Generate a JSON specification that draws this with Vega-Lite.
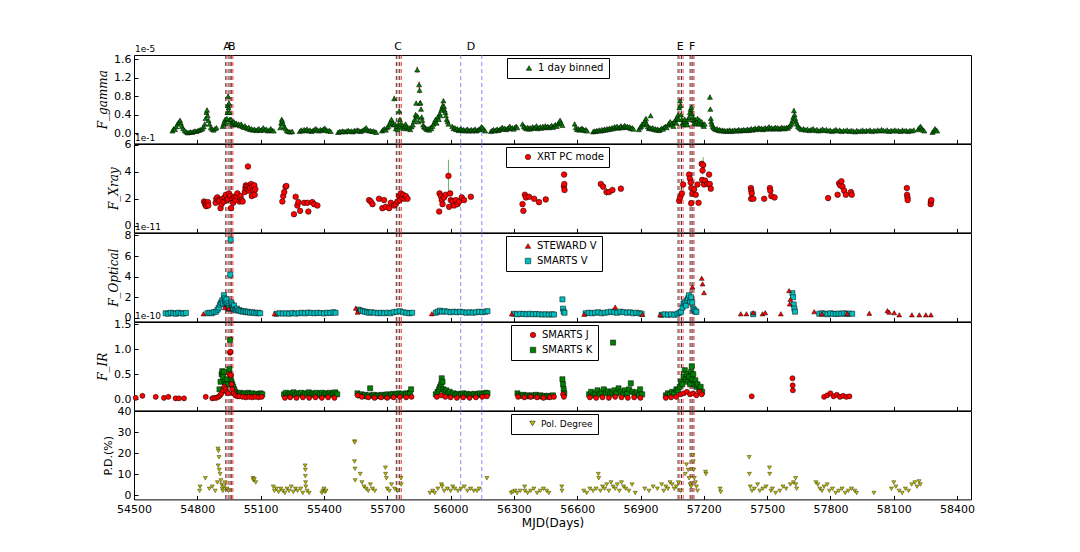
{
  "$schema": "https://vega.github.io/schema/vega-lite/v6.json",
  "background": "white",
  "padding": {"left": 96, "top": 40, "right": 5, "bottom": 5},
  "bounds": "flush",
  "spacing": 0,
  "config": {
    "font": "DejaVu Sans",
    "view": {"stroke": "black", "strokeWidth": 1},
    "axis": {"grid": false, "domain": false, "labelFont": "DejaVu Sans", "labelFontSize": 11, "labelColor": "black", "tickColor": "black", "tickSize": -4, "labelPadding": 7, "labelOverlap": false, "labelFlush": false, "titleColor": "black", "titleFontWeight": "normal", "titleFont": "DejaVu Sans"},
    "legend": {"orient": "none", "strokeColor": "black", "fillColor": "white", "padding": 5, "cornerRadius": 0, "labelFont": "DejaVu Sans", "labelFontSize": 10, "labelColor": "black", "symbolStrokeColor": "black", "symbolStrokeWidth": 0.5, "symbolSize": 30, "symbolOffset": 12, "rowPadding": 5}
  },
  "datasets": {
    "ev": [
      {"t": 54935, "k": "start"}, {"t": 54941, "k": "end"}, {"t": 54950, "k": "start"}, {"t": 54957, "k": "end"}, {"t": 54963, "k": "start"}, {"t": 54969, "k": "end"},
      {"t": 55743, "k": "start"}, {"t": 55751, "k": "end"}, {"t": 55759, "k": "start"}, {"t": 55767, "k": "end"},
      {"t": 56048, "k": "window"}, {"t": 56148, "k": "window"},
      {"t": 57078, "k": "start"}, {"t": 57086, "k": "end"}, {"t": 57094, "k": "start"}, {"t": 57102, "k": "end"},
      {"t": 57135, "k": "start"}, {"t": 57141, "k": "end"}, {"t": 57148, "k": "start"}, {"t": 57154, "k": "end"}
    ],
    "lab": [
      {"t": 54941, "n": "A"}, {"t": 54963, "n": "B"}, {"t": 55751, "n": "C"}, {"t": 56097, "n": "D"}, {"t": 57088, "n": "E"}, {"t": 57145, "n": "F"}
    ],
    "off": [
      {"t": 54500, "o": "1e-5", "p": "gamma"}, {"t": 54500, "o": "1e-1", "p": "xray"}, {"t": 54500, "o": "1e-11", "p": "optical"}, {"t": 54500, "o": "1e-10", "p": "ir"}
    ],
    "gam": [
      {"t":54682,"f":0.05,"e":0.02},{"t":54688,"f":0.1,"e":0.02},{"t":54694,"f":0.08,"e":0.02},{"t":54700,"f":0.14,"e":0.02},{"t":54706,"f":0.2,"e":0.03},{"t":54712,"f":0.24,"e":0.03},{"t":54718,"f":0.28,"e":0.03},{"t":54722,"f":0.22,"e":0.03},{"t":54727,"f":0.15,"e":0.03},{"t":54733,"f":0.1,"e":0.02},{"t":54740,"f":0.06,"e":0.02},{"t":54747,"f":0.03,"e":0.02},{"t":54754,"f":0.01,"e":0.02},{"t":54761,"f":0.02,"e":0.02},{"t":54768,"f":0.03,"e":0.02},{"t":54775,"f":0.02,"e":0.02},{"t":54782,"f":0.04,"e":0.02},{"t":54789,"f":0.05,"e":0.02},{"t":54796,"f":0.04,"e":0.02},{"t":54803,"f":0.06,"e":0.02},{"t":54810,"f":0.07,"e":0.02},{"t":54817,"f":0.08,"e":0.02},{"t":54824,"f":0.1,"e":0.02},{"t":54830,"f":0.14,"e":0.02},{"t":54835,"f":0.2,"e":0.03},{"t":54839,"f":0.32,"e":0.03},{"t":54843,"f":0.45,"e":0.05},{"t":54846,"f":0.5,"e":0.05},{"t":54849,"f":0.38,"e":0.03},{"t":54853,"f":0.28,"e":0.03},{"t":54858,"f":0.2,"e":0.03},{"t":54864,"f":0.12,"e":0.02},{"t":54870,"f":0.09,"e":0.02},{"t":54877,"f":0.07,"e":0.02},{"t":54884,"f":0.1,"e":0.02},{"t":54891,"f":0.12,"e":0.02},
      {"t":54920,"f":0.15,"e":0.03},{"t":54924,"f":0.2,"e":0.03},{"t":54928,"f":0.25,"e":0.03},{"t":54932,"f":0.3,"e":0.03},{"t":54936,"f":0.22,"e":0.03},{"t":54940,"f":0.32,"e":0.03},{"t":54943,"f":0.45,"e":0.05},{"t":54945,"f":0.6,"e":0.05},{"t":54946,"f":0.8,"e":0.06},{"t":54948,"f":0.55,"e":0.05},{"t":54950,"f":0.65,"e":0.05},{"t":54952,"f":0.45,"e":0.05},{"t":54954,"f":0.3,"e":0.03},{"t":54957,"f":0.25,"e":0.03},{"t":54960,"f":0.3,"e":0.03},{"t":54964,"f":0.22,"e":0.03},{"t":54968,"f":0.18,"e":0.03},{"t":54973,"f":0.25,"e":0.03},{"t":54978,"f":0.2,"e":0.03},{"t":54984,"f":0.22,"e":0.03},{"t":54990,"f":0.18,"e":0.03},{"t":54996,"f":0.2,"e":0.03},{"t":55002,"f":0.16,"e":0.03},{"t":55008,"f":0.2,"e":0.03},{"t":55014,"f":0.15,"e":0.03},{"t":55020,"f":0.13,"e":0.02},{"t":55026,"f":0.16,"e":0.03},{"t":55032,"f":0.12,"e":0.02},{"t":55038,"f":0.1,"e":0.02},{"t":55044,"f":0.13,"e":0.02},{"t":55050,"f":0.08,"e":0.02},{"t":55057,"f":0.1,"e":0.02},{"t":55064,"f":0.07,"e":0.02},{"t":55071,"f":0.09,"e":0.02},{"t":55078,"f":0.06,"e":0.02},{"t":55085,"f":0.08,"e":0.02},{"t":55092,"f":0.1,"e":0.02},{"t":55099,"f":0.06,"e":0.02},{"t":55106,"f":0.08,"e":0.02},{"t":55113,"f":0.12,"e":0.02},{"t":55120,"f":0.07,"e":0.02},{"t":55127,"f":0.09,"e":0.02},{"t":55134,"f":0.05,"e":0.02},{"t":55141,"f":0.07,"e":0.02},{"t":55148,"f":0.1,"e":0.02},{"t":55155,"f":0.06,"e":0.02},{"t":55162,"f":0.05,"e":0.02},
      {"t":55193,"f":0.12,"e":0.02},{"t":55197,"f":0.22,"e":0.03},{"t":55200,"f":0.3,"e":0.03},{"t":55203,"f":0.26,"e":0.03},{"t":55207,"f":0.2,"e":0.03},{"t":55212,"f":0.14,"e":0.02},{"t":55218,"f":0.1,"e":0.02},{"t":55224,"f":0.06,"e":0.02},{"t":55230,"f":0.04,"e":0.02},{"t":55237,"f":0.03,"e":0.02},{"t":55244,"f":0.03,"e":0.02},{"t":55250,"f":0.04,"e":0.02},
      {"t":55285,"f":0.04,"e":0.02},{"t":55292,"f":0.07,"e":0.02},{"t":55299,"f":0.05,"e":0.02},{"t":55306,"f":0.08,"e":0.02},{"t":55313,"f":0.06,"e":0.02},{"t":55320,"f":0.09,"e":0.02},{"t":55327,"f":0.05,"e":0.02},{"t":55334,"f":0.07,"e":0.02},{"t":55341,"f":0.04,"e":0.02},{"t":55348,"f":0.06,"e":0.02},{"t":55355,"f":0.08,"e":0.02},{"t":55362,"f":0.1,"e":0.02},{"t":55369,"f":0.07,"e":0.02},{"t":55376,"f":0.05,"e":0.02},{"t":55383,"f":0.08,"e":0.02},{"t":55390,"f":0.06,"e":0.02},{"t":55397,"f":0.09,"e":0.02},{"t":55404,"f":0.11,"e":0.02},{"t":55411,"f":0.07,"e":0.02},{"t":55418,"f":0.05,"e":0.02},{"t":55425,"f":0.06,"e":0.02},{"t":55432,"f":0.04,"e":0.02},
      {"t":55467,"f":0.02,"e":0.02},{"t":55474,"f":0.04,"e":0.02},{"t":55481,"f":0.03,"e":0.02},{"t":55488,"f":0.05,"e":0.02},{"t":55495,"f":0.04,"e":0.02},{"t":55502,"f":0.03,"e":0.02},{"t":55509,"f":0.05,"e":0.02},{"t":55516,"f":0.06,"e":0.02},{"t":55523,"f":0.04,"e":0.02},{"t":55530,"f":0.05,"e":0.02},{"t":55537,"f":0.03,"e":0.02},{"t":55544,"f":0.06,"e":0.02},{"t":55551,"f":0.05,"e":0.02},{"t":55558,"f":0.07,"e":0.02},{"t":55565,"f":0.06,"e":0.02},{"t":55572,"f":0.04,"e":0.02},{"t":55579,"f":0.05,"e":0.02},{"t":55586,"f":0.07,"e":0.02},{"t":55593,"f":0.09,"e":0.02},{"t":55600,"f":0.12,"e":0.02},{"t":55607,"f":0.07,"e":0.02},{"t":55614,"f":0.05,"e":0.02},{"t":55621,"f":0.06,"e":0.02},{"t":55628,"f":0.04,"e":0.02},{"t":55635,"f":0.05,"e":0.02},{"t":55642,"f":0.03,"e":0.02},{"t":55648,"f":0.02,"e":0.02},
      {"t":55675,"f":0.05,"e":0.02},{"t":55681,"f":0.08,"e":0.02},{"t":55687,"f":0.1,"e":0.02},{"t":55693,"f":0.07,"e":0.02},{"t":55699,"f":0.12,"e":0.02},{"t":55705,"f":0.15,"e":0.03},{"t":55710,"f":0.2,"e":0.03},{"t":55715,"f":0.25,"e":0.03},{"t":55720,"f":0.3,"e":0.03},{"t":55725,"f":0.22,"e":0.03},{"t":55730,"f":0.18,"e":0.03},{"t":55733,"f":0.75,"e":0.06},{"t":55737,"f":0.2,"e":0.03},{"t":55741,"f":0.1,"e":0.02},{"t":55745,"f":0.15,"e":0.03},{"t":55749,"f":0.08,"e":0.02},{"t":55753,"f":0.2,"e":0.03},{"t":55757,"f":0.48,"e":0.05},{"t":55760,"f":0.3,"e":0.03},{"t":55764,"f":0.2,"e":0.03},{"t":55768,"f":0.12,"e":0.02},{"t":55772,"f":0.18,"e":0.03},{"t":55777,"f":0.1,"e":0.02},{"t":55782,"f":0.15,"e":0.03},{"t":55787,"f":0.2,"e":0.03},{"t":55792,"f":0.14,"e":0.02},{"t":55797,"f":0.1,"e":0.02},{"t":55803,"f":0.12,"e":0.02},{"t":55809,"f":0.08,"e":0.02},{"t":55815,"f":0.14,"e":0.02},{"t":55821,"f":0.18,"e":0.03},
      {"t":55826,"f":0.25,"e":0.03},{"t":55830,"f":0.3,"e":0.03},{"t":55834,"f":0.4,"e":0.05},{"t":55837,"f":0.65,"e":0.05},{"t":55840,"f":0.38,"e":0.03},{"t":55842,"f":1.37,"e":0.07},{"t":55845,"f":0.35,"e":0.03},{"t":55848,"f":0.25,"e":0.03},{"t":55851,"f":1.05,"e":0.07},{"t":55853,"f":0.93,"e":0.07},{"t":55855,"f":0.65,"e":0.05},{"t":55857,"f":0.66,"e":0.05},{"t":55860,"f":0.52,"e":0.05},{"t":55863,"f":0.35,"e":0.03},{"t":55866,"f":0.28,"e":0.03},{"t":55870,"f":0.18,"e":0.03},{"t":55874,"f":0.14,"e":0.02},{"t":55879,"f":0.12,"e":0.02},{"t":55884,"f":0.1,"e":0.02},
      {"t":55889,"f":0.08,"e":0.02},{"t":55894,"f":0.1,"e":0.02},{"t":55899,"f":0.07,"e":0.02},{"t":55904,"f":0.12,"e":0.02},{"t":55909,"f":0.1,"e":0.02},{"t":55914,"f":0.15,"e":0.03},{"t":55919,"f":0.2,"e":0.03},{"t":55924,"f":0.25,"e":0.03},{"t":55929,"f":0.3,"e":0.03},{"t":55934,"f":0.22,"e":0.03},{"t":55939,"f":0.35,"e":0.03},{"t":55944,"f":0.3,"e":0.03},{"t":55948,"f":0.42,"e":0.05},{"t":55952,"f":0.38,"e":0.03},{"t":55956,"f":0.5,"e":0.05},{"t":55960,"f":0.55,"e":0.05},{"t":55963,"f":0.6,"e":0.05},{"t":55966,"f":0.7,"e":0.05},{"t":55969,"f":0.58,"e":0.05},{"t":55972,"f":0.5,"e":0.05},{"t":55975,"f":0.45,"e":0.05},{"t":55978,"f":0.38,"e":0.03},{"t":55982,"f":0.3,"e":0.03},{"t":55986,"f":0.25,"e":0.03},{"t":55990,"f":0.2,"e":0.03},
      {"t":56008,"f":0.15,"e":0.03},{"t":56014,"f":0.1,"e":0.02},{"t":56020,"f":0.12,"e":0.02},{"t":56026,"f":0.08,"e":0.02},{"t":56032,"f":0.1,"e":0.02},{"t":56038,"f":0.06,"e":0.02},{"t":56044,"f":0.08,"e":0.02},{"t":56050,"f":0.1,"e":0.02},{"t":56056,"f":0.06,"e":0.02},{"t":56062,"f":0.08,"e":0.02},{"t":56068,"f":0.05,"e":0.02},{"t":56074,"f":0.07,"e":0.02},{"t":56080,"f":0.09,"e":0.02},{"t":56086,"f":0.05,"e":0.02},{"t":56092,"f":0.06,"e":0.02},{"t":56098,"f":0.08,"e":0.02},{"t":56104,"f":0.05,"e":0.02},{"t":56110,"f":0.07,"e":0.02},{"t":56116,"f":0.09,"e":0.02},{"t":56122,"f":0.05,"e":0.02},{"t":56128,"f":0.07,"e":0.02},{"t":56134,"f":0.08,"e":0.02},{"t":56140,"f":0.1,"e":0.02},{"t":56146,"f":0.14,"e":0.02},{"t":56152,"f":0.12,"e":0.02},{"t":56158,"f":0.08,"e":0.02},{"t":56164,"f":0.05,"e":0.02},
      {"t":56191,"f":0.04,"e":0.02},{"t":56197,"f":0.06,"e":0.02},{"t":56203,"f":0.08,"e":0.02},{"t":56209,"f":0.05,"e":0.02},{"t":56215,"f":0.07,"e":0.02},{"t":56221,"f":0.09,"e":0.02},{"t":56227,"f":0.06,"e":0.02},{"t":56233,"f":0.08,"e":0.02},{"t":56239,"f":0.1,"e":0.02},{"t":56245,"f":0.13,"e":0.02},{"t":56251,"f":0.09,"e":0.02},{"t":56257,"f":0.11,"e":0.02},{"t":56263,"f":0.08,"e":0.02},{"t":56269,"f":0.1,"e":0.02},{"t":56275,"f":0.12,"e":0.02},{"t":56281,"f":0.15,"e":0.03},{"t":56287,"f":0.1,"e":0.02},{"t":56293,"f":0.12,"e":0.02},{"t":56299,"f":0.09,"e":0.02},{"t":56305,"f":0.13,"e":0.02},{"t":56311,"f":0.15,"e":0.03},{"t":56316,"f":0.12,"e":0.02},
      {"t":56341,"f":0.2,"e":0.03},{"t":56347,"f":0.15,"e":0.03},{"t":56353,"f":0.12,"e":0.02},{"t":56359,"f":0.1,"e":0.02},{"t":56365,"f":0.13,"e":0.02},{"t":56371,"f":0.09,"e":0.02},{"t":56377,"f":0.12,"e":0.02},{"t":56383,"f":0.1,"e":0.02},{"t":56389,"f":0.14,"e":0.02},{"t":56395,"f":0.11,"e":0.02},{"t":56401,"f":0.13,"e":0.02},{"t":56407,"f":0.16,"e":0.03},{"t":56413,"f":0.1,"e":0.02},{"t":56419,"f":0.12,"e":0.02},{"t":56425,"f":0.14,"e":0.02},{"t":56431,"f":0.11,"e":0.02},{"t":56437,"f":0.15,"e":0.03},{"t":56443,"f":0.12,"e":0.02},{"t":56449,"f":0.16,"e":0.03},{"t":56455,"f":0.13,"e":0.02},{"t":56461,"f":0.15,"e":0.03},{"t":56467,"f":0.12,"e":0.02},{"t":56473,"f":0.14,"e":0.02},{"t":56479,"f":0.17,"e":0.03},{"t":56485,"f":0.13,"e":0.02},{"t":56491,"f":0.16,"e":0.03},{"t":56497,"f":0.19,"e":0.03},{"t":56503,"f":0.15,"e":0.03},{"t":56509,"f":0.2,"e":0.03},{"t":56515,"f":0.24,"e":0.03},{"t":56519,"f":0.28,"e":0.03},{"t":56524,"f":0.22,"e":0.03},{"t":56530,"f":0.17,"e":0.03},
      {"t":56588,"f":0.2,"e":0.03},{"t":56593,"f":0.12,"e":0.02},{"t":56599,"f":0.08,"e":0.02},{"t":56605,"f":0.1,"e":0.02},{"t":56611,"f":0.07,"e":0.02},{"t":56617,"f":0.09,"e":0.02},{"t":56623,"f":0.11,"e":0.02},{"t":56629,"f":0.08,"e":0.02},{"t":56635,"f":0.06,"e":0.02},{"t":56641,"f":0.08,"e":0.02},{"t":56647,"f":0.05,"e":0.02},
      {"t":56675,"f":0.03,"e":0.02},{"t":56681,"f":0.05,"e":0.02},{"t":56687,"f":0.04,"e":0.02},{"t":56693,"f":0.06,"e":0.02},{"t":56699,"f":0.05,"e":0.02},{"t":56705,"f":0.07,"e":0.02},{"t":56711,"f":0.05,"e":0.02},{"t":56717,"f":0.08,"e":0.02},{"t":56723,"f":0.06,"e":0.02},{"t":56729,"f":0.09,"e":0.02},{"t":56735,"f":0.07,"e":0.02},{"t":56741,"f":0.1,"e":0.02},{"t":56747,"f":0.08,"e":0.02},{"t":56753,"f":0.11,"e":0.02},{"t":56759,"f":0.09,"e":0.02},{"t":56765,"f":0.12,"e":0.02},{"t":56771,"f":0.1,"e":0.02},{"t":56777,"f":0.14,"e":0.02},{"t":56783,"f":0.12,"e":0.02},{"t":56789,"f":0.15,"e":0.03},{"t":56795,"f":0.11,"e":0.02},{"t":56801,"f":0.13,"e":0.02},{"t":56807,"f":0.16,"e":0.03},{"t":56813,"f":0.12,"e":0.02},{"t":56819,"f":0.14,"e":0.02},{"t":56825,"f":0.17,"e":0.03},{"t":56831,"f":0.13,"e":0.02},{"t":56837,"f":0.15,"e":0.03},{"t":56843,"f":0.12,"e":0.02},{"t":56849,"f":0.14,"e":0.02},{"t":56855,"f":0.1,"e":0.02},{"t":56861,"f":0.12,"e":0.02},{"t":56867,"f":0.09,"e":0.02},
      {"t":56892,"f":0.08,"e":0.02},{"t":56898,"f":0.12,"e":0.02},{"t":56903,"f":0.15,"e":0.03},{"t":56908,"f":0.2,"e":0.03},{"t":56913,"f":0.18,"e":0.03},{"t":56918,"f":0.22,"e":0.03},{"t":56922,"f":0.28,"e":0.03},{"t":56926,"f":0.32,"e":0.03},{"t":56930,"f":0.2,"e":0.03},{"t":56935,"f":0.14,"e":0.02},{"t":56940,"f":0.1,"e":0.02},{"t":56945,"f":0.12,"e":0.02},{"t":56948,"f":0.38,"e":0.04},{"t":56952,"f":0.1,"e":0.02},{"t":56958,"f":0.12,"e":0.02},{"t":56964,"f":0.08,"e":0.02},{"t":56970,"f":0.1,"e":0.02},{"t":56976,"f":0.07,"e":0.02},{"t":56982,"f":0.09,"e":0.02},{"t":56988,"f":0.06,"e":0.02},{"t":56994,"f":0.08,"e":0.02},{"t":57000,"f":0.11,"e":0.02},{"t":57006,"f":0.09,"e":0.02},{"t":57012,"f":0.13,"e":0.02},{"t":57018,"f":0.15,"e":0.03},{"t":57024,"f":0.12,"e":0.02},{"t":57030,"f":0.18,"e":0.03},{"t":57036,"f":0.22,"e":0.03},{"t":57041,"f":0.25,"e":0.03},
      {"t":57046,"f":0.18,"e":0.03},{"t":57051,"f":0.22,"e":0.03},{"t":57056,"f":0.15,"e":0.03},{"t":57061,"f":0.25,"e":0.03},{"t":57066,"f":0.3,"e":0.03},{"t":57070,"f":0.22,"e":0.03},{"t":57074,"f":0.33,"e":0.03},{"t":57078,"f":0.4,"e":0.04},{"t":57081,"f":0.3,"e":0.03},{"t":57084,"f":0.55,"e":0.05},{"t":57087,"f":0.7,"e":0.06},{"t":57090,"f":0.6,"e":0.05},{"t":57093,"f":0.4,"e":0.04},{"t":57096,"f":0.3,"e":0.03},{"t":57099,"f":0.22,"e":0.03},{"t":57102,"f":0.18,"e":0.03},{"t":57106,"f":0.25,"e":0.03},{"t":57110,"f":0.3,"e":0.03},{"t":57114,"f":0.2,"e":0.03},{"t":57118,"f":0.25,"e":0.03},{"t":57122,"f":0.18,"e":0.03},{"t":57126,"f":0.3,"e":0.03},{"t":57130,"f":0.35,"e":0.03},{"t":57134,"f":0.45,"e":0.04},{"t":57138,"f":0.52,"e":0.05},{"t":57141,"f":0.56,"e":0.05},{"t":57144,"f":0.42,"e":0.04},{"t":57147,"f":0.35,"e":0.03},{"t":57150,"f":0.28,"e":0.03},{"t":57154,"f":0.22,"e":0.03},{"t":57158,"f":0.3,"e":0.03},{"t":57162,"f":0.2,"e":0.03},{"t":57166,"f":0.25,"e":0.03},{"t":57170,"f":0.32,"e":0.03},{"t":57175,"f":0.22,"e":0.03},{"t":57180,"f":0.28,"e":0.03},{"t":57185,"f":0.2,"e":0.03},{"t":57190,"f":0.25,"e":0.03},{"t":57195,"f":0.18,"e":0.03},{"t":57200,"f":0.15,"e":0.03},{"t":57204,"f":0.2,"e":0.03},
      {"t":57229,"f":0.78,"e":0.06},{"t":57231,"f":0.52,"e":0.05},{"t":57233,"f":0.32,"e":0.03},{"t":57235,"f":0.25,"e":0.03},{"t":57238,"f":0.2,"e":0.03},{"t":57242,"f":0.15,"e":0.03},{"t":57246,"f":0.12,"e":0.02},{"t":57251,"f":0.1,"e":0.02},{"t":57257,"f":0.08,"e":0.02},{"t":57263,"f":0.1,"e":0.02},{"t":57269,"f":0.06,"e":0.02},{"t":57275,"f":0.08,"e":0.02},{"t":57281,"f":0.05,"e":0.02},{"t":57287,"f":0.07,"e":0.02},{"t":57293,"f":0.05,"e":0.02},{"t":57299,"f":0.06,"e":0.02},{"t":57305,"f":0.04,"e":0.02},{"t":57311,"f":0.06,"e":0.02},{"t":57317,"f":0.05,"e":0.02},{"t":57323,"f":0.07,"e":0.02},{"t":57329,"f":0.04,"e":0.02},{"t":57335,"f":0.06,"e":0.02},{"t":57341,"f":0.05,"e":0.02},{"t":57347,"f":0.07,"e":0.02},{"t":57353,"f":0.05,"e":0.02},{"t":57359,"f":0.06,"e":0.02},{"t":57365,"f":0.08,"e":0.02},{"t":57371,"f":0.05,"e":0.02},{"t":57377,"f":0.07,"e":0.02},{"t":57383,"f":0.06,"e":0.02},{"t":57389,"f":0.08,"e":0.02},{"t":57395,"f":0.06,"e":0.02},{"t":57401,"f":0.07,"e":0.02},{"t":57407,"f":0.09,"e":0.02},{"t":57413,"f":0.06,"e":0.02},{"t":57419,"f":0.08,"e":0.02},{"t":57425,"f":0.1,"e":0.02},{"t":57431,"f":0.07,"e":0.02},{"t":57437,"f":0.09,"e":0.02},{"t":57443,"f":0.11,"e":0.02},{"t":57449,"f":0.08,"e":0.02},{"t":57455,"f":0.1,"e":0.02},{"t":57461,"f":0.12,"e":0.02},{"t":57467,"f":0.09,"e":0.02},{"t":57473,"f":0.11,"e":0.02},{"t":57479,"f":0.08,"e":0.02},{"t":57485,"f":0.1,"e":0.02},{"t":57491,"f":0.12,"e":0.02},{"t":57497,"f":0.09,"e":0.02},{"t":57503,"f":0.11,"e":0.02},{"t":57509,"f":0.14,"e":0.02},{"t":57515,"f":0.1,"e":0.02},{"t":57521,"f":0.12,"e":0.02},{"t":57527,"f":0.09,"e":0.02},{"t":57533,"f":0.11,"e":0.02},{"t":57539,"f":0.13,"e":0.02},{"t":57545,"f":0.1,"e":0.02},{"t":57551,"f":0.12,"e":0.02},{"t":57557,"f":0.09,"e":0.02},{"t":57563,"f":0.11,"e":0.02},{"t":57569,"f":0.13,"e":0.02},{"t":57575,"f":0.1,"e":0.02},{"t":57581,"f":0.12,"e":0.02},{"t":57587,"f":0.1,"e":0.02},{"t":57593,"f":0.13,"e":0.02},{"t":57599,"f":0.11,"e":0.02},{"t":57605,"f":0.15,"e":0.03},{"t":57611,"f":0.18,"e":0.03},{"t":57616,"f":0.22,"e":0.03},{"t":57620,"f":0.28,"e":0.03},{"t":57624,"f":0.35,"e":0.03},{"t":57627,"f":0.49,"e":0.05},{"t":57630,"f":0.4,"e":0.04},{"t":57633,"f":0.32,"e":0.03},{"t":57637,"f":0.25,"e":0.03},{"t":57641,"f":0.2,"e":0.03},{"t":57646,"f":0.15,"e":0.03},{"t":57652,"f":0.12,"e":0.02},{"t":57658,"f":0.1,"e":0.02},
      {"t":57664,"f":0.08,"e":0.02},{"t":57673,"f":0.1,"e":0.02},{"t":57682,"f":0.07,"e":0.02},{"t":57691,"f":0.09,"e":0.02},{"t":57700,"f":0.06,"e":0.02},{"t":57709,"f":0.08,"e":0.02},{"t":57718,"f":0.1,"e":0.02},{"t":57727,"f":0.06,"e":0.02},{"t":57736,"f":0.08,"e":0.02},{"t":57745,"f":0.05,"e":0.02},{"t":57754,"f":0.07,"e":0.02},{"t":57763,"f":0.09,"e":0.02},{"t":57772,"f":0.06,"e":0.02},{"t":57781,"f":0.08,"e":0.02},{"t":57790,"f":0.05,"e":0.02},{"t":57799,"f":0.07,"e":0.02},{"t":57808,"f":0.04,"e":0.02},{"t":57817,"f":0.06,"e":0.02},{"t":57826,"f":0.08,"e":0.02},{"t":57835,"f":0.05,"e":0.02},{"t":57844,"f":0.07,"e":0.02},{"t":57853,"f":0.04,"e":0.02},{"t":57862,"f":0.06,"e":0.02},{"t":57871,"f":0.05,"e":0.02},{"t":57880,"f":0.07,"e":0.02},{"t":57889,"f":0.04,"e":0.02},{"t":57898,"f":0.06,"e":0.02},{"t":57907,"f":0.05,"e":0.02},{"t":57916,"f":0.03,"e":0.02},{"t":57925,"f":0.06,"e":0.02},{"t":57934,"f":0.04,"e":0.02},{"t":57943,"f":0.05,"e":0.02},{"t":57952,"f":0.07,"e":0.02},{"t":57961,"f":0.04,"e":0.02},{"t":57970,"f":0.06,"e":0.02},{"t":57979,"f":0.05,"e":0.02},{"t":57988,"f":0.07,"e":0.02},{"t":57997,"f":0.04,"e":0.02},{"t":58006,"f":0.06,"e":0.02},{"t":58015,"f":0.05,"e":0.02},{"t":58024,"f":0.07,"e":0.02},{"t":58033,"f":0.05,"e":0.02},{"t":58042,"f":0.08,"e":0.02},{"t":58051,"f":0.06,"e":0.02},{"t":58060,"f":0.05,"e":0.02},{"t":58069,"f":0.07,"e":0.02},{"t":58078,"f":0.04,"e":0.02},{"t":58087,"f":0.06,"e":0.02},{"t":58096,"f":0.05,"e":0.02},{"t":58105,"f":0.07,"e":0.02},{"t":58114,"f":0.05,"e":0.02},{"t":58123,"f":0.06,"e":0.02},{"t":58132,"f":0.04,"e":0.02},{"t":58141,"f":0.07,"e":0.02},{"t":58150,"f":0.05,"e":0.02},{"t":58159,"f":0.06,"e":0.02},{"t":58168,"f":0.04,"e":0.02},{"t":58177,"f":0.06,"e":0.02},{"t":58186,"f":0.05,"e":0.02},{"t":58195,"f":0.07,"e":0.02},
      {"t":58215,"f":0.08,"e":0.02},{"t":58221,"f":0.12,"e":0.02},{"t":58227,"f":0.15,"e":0.03},{"t":58233,"f":0.1,"e":0.02},{"t":58239,"f":0.07,"e":0.02},{"t":58245,"f":0.05,"e":0.02},{"t":58283,"f":0.02,"e":0.02},{"t":58289,"f":0.05,"e":0.02},{"t":58295,"f":0.1,"e":0.02},{"t":58300,"f":0.07,"e":0.02},{"t":58306,"f":0.05,"e":0.02}
    ],
    "xrt": [
      {"t":54832,"f":1.8,"e":0.15},{"t":54835,"f":1.7,"e":0.15},{"t":54838,"f":1.55,"e":0.15},{"t":54842,"f":1.45,"e":0.15},{"t":54845,"f":1.65,"e":0.15},{"t":54850,"f":1.75,"e":0.15},{"t":54852,"f":1.5,"e":0.15},
      {"t":54887,"f":1.7,"e":0.15},{"t":54890,"f":2.0,"e":0.15},{"t":54895,"f":2.1,"e":0.15},{"t":54900,"f":1.9,"e":0.15},{"t":54905,"f":1.8,"e":0.15},{"t":54910,"f":1.3,"e":0.15},{"t":54915,"f":1.6,"e":0.15},{"t":54920,"f":2.0,"e":0.15},{"t":54925,"f":1.8,"e":0.15},{"t":54930,"f":2.1,"e":0.15},{"t":54935,"f":2.3,"e":0.15},{"t":54940,"f":1.9,"e":0.15},{"t":54945,"f":2.0,"e":0.15},{"t":54950,"f":2.4,"e":0.15},{"t":54955,"f":2.2,"e":0.15},{"t":54960,"f":1.3,"e":0.15},{"t":54965,"f":2.0,"e":0.15},{"t":54970,"f":1.7,"e":0.15},{"t":54975,"f":2.1,"e":0.15},{"t":54980,"f":1.9,"e":0.15},{"t":54985,"f":2.2,"e":0.15},{"t":54990,"f":2.4,"e":0.15},{"t":55000,"f":1.8,"e":0.15},{"t":55005,"f":2.2,"e":0.15},{"t":55010,"f":1.9,"e":0.15},{"t":55015,"f":1.8,"e":0.15},
      {"t":55025,"f":2.5,"e":0.15},{"t":55028,"f":2.8,"e":0.15},{"t":55030,"f":3.0,"e":0.15},{"t":55035,"f":2.9,"e":0.15},{"t":55038,"f":2.7,"e":0.15},{"t":55040,"f":4.4,"e":0.2},{"t":55045,"f":2.6,"e":0.15},{"t":55048,"f":3.0,"e":0.15},{"t":55050,"f":2.8,"e":0.15},{"t":55055,"f":3.1,"e":0.15},{"t":55058,"f":2.2,"e":0.15},{"t":55060,"f":2.9,"e":0.15},{"t":55065,"f":2.6,"e":0.15},{"t":55070,"f":3.0,"e":0.15},{"t":55072,"f":2.3,"e":0.15},{"t":55075,"f":2.7,"e":0.15},
      {"t":55203,"f":1.8,"e":0.15},{"t":55207,"f":2.2,"e":0.15},{"t":55212,"f":2.5,"e":0.15},{"t":55218,"f":2.9,"e":0.15},{"t":55222,"f":2.95,"e":0.15},
      {"t":55258,"f":0.85,"e":0.15},{"t":55266,"f":2.15,"e":0.15},{"t":55274,"f":1.5,"e":0.15},{"t":55279,"f":1.75,"e":0.15},{"t":55287,"f":1.1,"e":0.15},{"t":55306,"f":1.7,"e":0.15},{"t":55322,"f":1.7,"e":0.15},{"t":55326,"f":1.05,"e":0.15},{"t":55345,"f":1.75,"e":0.15},{"t":55353,"f":1.6,"e":0.15},{"t":55369,"f":1.5,"e":0.15},
      {"t":55614,"f":1.9,"e":0.15},{"t":55622,"f":1.8,"e":0.15},{"t":55630,"f":1.6,"e":0.15},{"t":55661,"f":2.0,"e":0.15},{"t":55677,"f":1.3,"e":0.15},{"t":55685,"f":1.9,"e":0.15},{"t":55693,"f":1.4,"e":0.15},{"t":55709,"f":1.3,"e":0.15},{"t":55717,"f":1.7,"e":0.15},{"t":55732,"f":1.5,"e":0.15},{"t":55740,"f":1.6,"e":0.15},{"t":55748,"f":1.8,"e":0.15},{"t":55756,"f":2.2,"e":0.15},{"t":55759,"f":1.9,"e":0.15},{"t":55764,"f":2.4,"e":0.15},{"t":55769,"f":2.1,"e":0.15},{"t":55775,"f":2.3,"e":0.15},{"t":55780,"f":2.0,"e":0.15},{"t":55788,"f":2.2,"e":0.15},{"t":55796,"f":2.0,"e":0.15},
      {"t":55946,"f":1.05,"e":0.15},{"t":55948,"f":2.4,"e":0.15},{"t":55954,"f":2.2,"e":0.15},{"t":55958,"f":1.9,"e":0.15},{"t":55962,"f":1.6,"e":0.15},{"t":55969,"f":2.1,"e":0.15},{"t":55977,"f":2.3,"e":0.15},{"t":55990,"f":3.7,"e":1.2},{"t":55993,"f":1.4,"e":0.15},{"t":55998,"f":2.4,"e":0.15},{"t":56001,"f":1.9,"e":0.15},{"t":56009,"f":1.8,"e":0.15},{"t":56017,"f":1.5,"e":0.15},{"t":56025,"f":1.9,"e":0.15},{"t":56033,"f":1.6,"e":0.15},{"t":56041,"f":1.8,"e":0.15},{"t":56053,"f":2.1,"e":0.15},{"t":56064,"f":1.9,"e":0.15},{"t":56096,"f":2.15,"e":0.15},
      {"t":56341,"f":1.6,"e":0.15},{"t":56345,"f":1.1,"e":0.15},{"t":56352,"f":2.3,"e":0.15},{"t":56357,"f":2.1,"e":0.15},{"t":56372,"f":2.15,"e":0.15},{"t":56396,"f":2.0,"e":0.15},{"t":56419,"f":1.75,"e":0.15},{"t":56451,"f":1.95,"e":0.15},
      {"t":56537,"f":2.9,"e":0.15},{"t":56538,"f":3.8,"e":0.15},{"t":56539,"f":3.1,"e":0.15},{"t":56540,"f":2.65,"e":0.15},
      {"t":56712,"f":3.1,"e":0.15},{"t":56723,"f":2.9,"e":0.15},{"t":56739,"f":2.5,"e":0.3},{"t":56751,"f":2.5,"e":0.15},{"t":56767,"f":2.65,"e":0.25},{"t":56807,"f":2.75,"e":0.15},
      {"t":57083,"f":1.86,"e":0.15},{"t":57088,"f":2.1,"e":0.15},{"t":57096,"f":2.4,"e":0.15},{"t":57102,"f":3.06,"e":0.15},{"t":57130,"f":3.8,"e":0.15},{"t":57134,"f":3.5,"e":0.15},{"t":57138,"f":3.2,"e":0.15},{"t":57141,"f":2.8,"e":0.15},{"t":57146,"f":2.4,"e":0.15},{"t":57140,"f":1.66,"e":0.15},{"t":57154,"f":2.7,"e":0.15},{"t":57162,"f":2.3,"e":0.15},{"t":57175,"f":1.7,"e":0.15},{"t":57170,"f":3.06,"e":0.15},{"t":57190,"f":4.6,"e":0.2},{"t":57197,"f":4.5,"e":0.6},{"t":57194,"f":4.1,"e":0.3},{"t":57192,"f":3.4,"e":0.15},{"t":57201,"f":3.06,"e":0.15},{"t":57206,"f":3.35,"e":0.15},{"t":57217,"f":3.1,"e":0.15},{"t":57225,"f":3.8,"e":0.15},{"t":57228,"f":3.1,"e":0.15},{"t":57233,"f":2.75,"e":0.15},
      {"t":57423,"f":2.8,"e":0.15},{"t":57425,"f":2.6,"e":0.15},{"t":57427,"f":2.4,"e":0.15},{"t":57424,"f":2.0,"e":0.15},{"t":57435,"f":2.0,"e":0.15},{"t":57486,"f":2.0,"e":0.15},{"t":57513,"f":2.8,"e":0.15},{"t":57515,"f":2.6,"e":0.15},{"t":57520,"f":2.2,"e":0.15},{"t":57535,"f":2.1,"e":0.15},
      {"t":57789,"f":2.05,"e":0.2},{"t":57834,"f":2.3,"e":0.15},{"t":57841,"f":3.15,"e":0.15},{"t":57846,"f":3.0,"e":0.2},{"t":57852,"f":3.3,"e":0.15},{"t":57857,"f":2.9,"e":0.15},{"t":57865,"f":2.6,"e":0.15},{"t":57873,"f":2.3,"e":0.15},{"t":57897,"f":2.5,"e":0.15},{"t":57901,"f":2.3,"e":0.15},
      {"t":58162,"f":2.8,"e":0.15},{"t":58163,"f":2.3,"e":0.15},{"t":58165,"f":2.1,"e":0.15},{"t":58166,"f":1.9,"e":0.15},{"t":58275,"f":1.6,"e":0.15},{"t":58276,"f":1.8,"e":0.15},{"t":58278,"f":1.9,"e":0.15}
    ],
    "stw": [
      {"t":54829,"f":0.4},{"t":54930,"f":1.0},{"t":54950,"f":0.9},{"t":55166,"f":0.4},{"t":55551,"f":0.95},{"t":55559,"f":0.55},{"t":55911,"f":0.4},{"t":56290,"f":0.4},{"t":56633,"f":0.35},{"t":56780,"f":1.05},{"t":56909,"f":0.35},{"t":56993,"f":0.3},{"t":57146,"f":3.0},{"t":57190,"f":3.85},{"t":57194,"f":3.3},{"t":57201,"f":2.45},{"t":57375,"f":0.4},{"t":57402,"f":0.4},{"t":57434,"f":0.5},{"t":57478,"f":0.4},{"t":57491,"f":0.5},{"t":57565,"f":0.4},{"t":57604,"f":2.65},{"t":57607,"f":1.35},{"t":57610,"f":1.8},{"t":57723,"f":0.6},{"t":57760,"f":0.4},{"t":57880,"f":0.45},{"t":57984,"f":0.45},{"t":58070,"f":0.7},{"t":58078,"f":0.55},{"t":58102,"f":0.5},{"t":58126,"f":0.3},{"t":58186,"f":0.3},{"t":58221,"f":0.3},{"t":58252,"f":0.3},{"t":58276,"f":0.3}
    ],
    "smv": [
      {"t":54650,"f":0.45},{"t":54662,"f":0.4},{"t":54674,"f":0.5},{"t":54686,"f":0.45},{"t":54698,"f":0.4},{"t":54710,"f":0.5},{"t":54722,"f":0.45},{"t":54734,"f":0.42},{"t":54746,"f":0.48},
      {"t":54848,"f":0.45},{"t":54858,"f":0.5},{"t":54868,"f":0.45},{"t":54878,"f":0.55},{"t":54888,"f":0.6},{"t":54896,"f":0.8},{"t":54902,"f":1.0},{"t":54908,"f":1.3},{"t":54913,"f":1.5},{"t":54918,"f":1.7},{"t":54922,"f":1.4},{"t":54926,"f":2.2},{"t":54929,"f":1.9},{"t":54932,"f":1.6},{"t":54935,"f":1.3},{"t":54938,"f":1.8},{"t":54941,"f":1.1},{"t":54944,"f":1.4},{"t":54947,"f":0.9},{"t":54950,"f":1.2},{"t":54953,"f":0.95},{"t":54956,"f":4.2},{"t":54958,"f":7.6},{"t":54961,"f":1.5},{"t":54964,"f":1.3},{"t":54967,"f":1.0},{"t":54970,"f":0.9},{"t":54974,"f":1.2},{"t":54978,"f":0.8},{"t":54983,"f":0.75},{"t":54988,"f":0.9},{"t":54994,"f":0.7},{"t":55000,"f":0.75},{"t":55008,"f":0.65},{"t":55016,"f":0.6},{"t":55024,"f":0.65},{"t":55032,"f":0.55},{"t":55040,"f":0.6},{"t":55050,"f":0.5},{"t":55060,"f":0.55},{"t":55070,"f":0.5},{"t":55080,"f":0.45},{"t":55090,"f":0.5},{"t":55098,"f":0.45},
      {"t":55175,"f":0.4},{"t":55190,"f":0.45},{"t":55205,"f":0.42},{"t":55220,"f":0.45},{"t":55235,"f":0.4},{"t":55250,"f":0.48},{"t":55265,"f":0.42},{"t":55280,"f":0.45},{"t":55295,"f":0.5},{"t":55310,"f":0.44},{"t":55325,"f":0.52},{"t":55340,"f":0.48},{"t":55355,"f":0.45},{"t":55370,"f":0.5},{"t":55385,"f":0.47},{"t":55400,"f":0.44},{"t":55415,"f":0.5},{"t":55430,"f":0.48},{"t":55445,"f":0.55},{"t":55455,"f":0.5},
      {"t":55565,"f":0.8},{"t":55575,"f":0.7},{"t":55585,"f":0.65},{"t":55595,"f":0.6},{"t":55605,"f":0.55},{"t":55615,"f":0.5},{"t":55625,"f":0.55},{"t":55640,"f":0.5},{"t":55655,"f":0.45},{"t":55670,"f":0.5},{"t":55685,"f":0.45},{"t":55700,"f":0.5},{"t":55715,"f":0.45},{"t":55730,"f":0.55},{"t":55745,"f":0.6},{"t":55760,"f":0.65},{"t":55775,"f":0.55},{"t":55790,"f":0.5},{"t":55805,"f":0.45},{"t":55818,"f":0.5},
      {"t":55930,"f":0.5},{"t":55940,"f":0.6},{"t":55950,"f":0.7},{"t":55960,"f":0.6},{"t":55972,"f":0.65},{"t":55985,"f":0.6},{"t":56000,"f":0.55},{"t":56015,"f":0.6},{"t":56030,"f":0.55},{"t":56045,"f":0.6},{"t":56060,"f":0.55},{"t":56075,"f":0.5},{"t":56090,"f":0.55},{"t":56105,"f":0.5},{"t":56120,"f":0.55},{"t":56135,"f":0.6},{"t":56150,"f":0.55},{"t":56165,"f":0.6},{"t":56175,"f":0.65},
      {"t":56300,"f":0.4},{"t":56315,"f":0.35},{"t":56330,"f":0.4},{"t":56345,"f":0.38},{"t":56360,"f":0.35},{"t":56375,"f":0.4},{"t":56390,"f":0.35},{"t":56405,"f":0.38},{"t":56420,"f":0.35},{"t":56435,"f":0.33},{"t":56450,"f":0.35},{"t":56465,"f":0.32},{"t":56480,"f":0.35},{"t":56490,"f":0.33},
      {"t":56530,"f":1.8},{"t":56533,"f":0.9},{"t":56536,"f":0.6},{"t":56540,"f":0.5},
      {"t":56640,"f":0.45},{"t":56655,"f":0.5},{"t":56670,"f":0.45},{"t":56685,"f":0.5},{"t":56700,"f":0.55},{"t":56715,"f":0.45},{"t":56730,"f":0.5},{"t":56745,"f":0.55},{"t":56760,"f":0.6},{"t":56775,"f":0.55},{"t":56790,"f":0.5},{"t":56805,"f":0.6},{"t":56820,"f":0.55},{"t":56835,"f":0.5},{"t":56850,"f":0.55},{"t":56865,"f":0.45},{"t":56880,"f":0.5},{"t":56895,"f":0.45},{"t":56905,"f":0.4},
      {"t":57000,"f":0.3},{"t":57015,"f":0.35},{"t":57030,"f":0.3},{"t":57045,"f":0.35},{"t":57060,"f":0.3},{"t":57075,"f":0.4},{"t":57085,"f":0.5},{"t":57092,"f":0.6},{"t":57099,"f":1.0},{"t":57104,"f":1.4},{"t":57110,"f":1.5},{"t":57115,"f":1.2},{"t":57120,"f":1.7},{"t":57125,"f":1.9},{"t":57130,"f":2.2},{"t":57135,"f":1.6},{"t":57140,"f":2.0},{"t":57145,"f":1.5},{"t":57150,"f":0.9},{"t":57155,"f":0.75},{"t":57160,"f":0.6},{"t":57165,"f":0.6},
      {"t":57434,"f":0.35},{"t":57620,"f":2.4},{"t":57623,"f":2.0},{"t":57626,"f":1.3},{"t":57629,"f":0.9},{"t":57632,"f":0.6},
      {"t":57747,"f":0.4},{"t":57760,"f":0.45},{"t":57773,"f":0.4},{"t":57786,"f":0.35},{"t":57799,"f":0.45},{"t":57812,"f":0.4},{"t":57825,"f":0.38},{"t":57838,"f":0.42},{"t":57851,"f":0.4},{"t":57864,"f":0.45},{"t":57877,"f":0.38},{"t":57890,"f":0.42},{"t":57903,"f":0.4}
    ],
    "smj": [
      {"t":54508,"f":0.03},{"t":54540,"f":0.07},{"t":54603,"f":0.05},{"t":54642,"f":0.03},{"t":54663,"f":0.05},{"t":54697,"f":0.02},{"t":54713,"f":0.02},{"t":54737,"f":0.02},
      {"t":54840,"f":0.05},{"t":54871,"f":0.02},{"t":54880,"f":0.03},{"t":54890,"f":0.03},{"t":54900,"f":0.05},{"t":54908,"f":0.08},{"t":54915,"f":0.12},{"t":54922,"f":0.18},{"t":54928,"f":0.25},{"t":54934,"f":0.2},{"t":54940,"f":0.15},{"t":54946,"f":0.12},{"t":54952,"f":0.5},{"t":54955,"f":0.93},{"t":54957,"f":0.95},{"t":54959,"f":0.48},{"t":54962,"f":0.3},{"t":54966,"f":0.2},{"t":54972,"f":0.12},{"t":54980,"f":0.08},{"t":54990,"f":0.06},{"t":55000,"f":0.06},{"t":55015,"f":0.05},{"t":55030,"f":0.04},{"t":55045,"f":0.05},{"t":55060,"f":0.04},{"t":55075,"f":0.05},{"t":55090,"f":0.04},{"t":55105,"f":0.05},
      {"t":55215,"f":0.03},{"t":55240,"f":0.04},{"t":55270,"f":0.03},{"t":55300,"f":0.04},{"t":55330,"f":0.03},{"t":55360,"f":0.04},{"t":55390,"f":0.03},{"t":55420,"f":0.04},{"t":55450,"f":0.03},
      {"t":55560,"f":0.08},{"t":55580,"f":0.05},{"t":55610,"f":0.04},{"t":55640,"f":0.03},{"t":55670,"f":0.04},{"t":55700,"f":0.03},{"t":55730,"f":0.04},{"t":55760,"f":0.05},{"t":55790,"f":0.04},{"t":55815,"f":0.05},
      {"t":55935,"f":0.05},{"t":55955,"f":0.08},{"t":55975,"f":0.05},{"t":56000,"f":0.04},{"t":56030,"f":0.03},{"t":56060,"f":0.04},{"t":56090,"f":0.03},{"t":56120,"f":0.04},{"t":56150,"f":0.05},{"t":56172,"f":0.06},
      {"t":56320,"f":0.05},{"t":56350,"f":0.04},{"t":56380,"f":0.05},{"t":56410,"f":0.04},{"t":56440,"f":0.03},{"t":56470,"f":0.04},{"t":56490,"f":0.05},{"t":56533,"f":0.1},{"t":56537,"f":0.05},
      {"t":56660,"f":0.04},{"t":56690,"f":0.03},{"t":56720,"f":0.04},{"t":56750,"f":0.03},{"t":56780,"f":0.05},{"t":56810,"f":0.04},{"t":56840,"f":0.03},{"t":56870,"f":0.04},{"t":56900,"f":0.03},
      {"t":57020,"f":0.03},{"t":57045,"f":0.04},{"t":57070,"f":0.05},{"t":57090,"f":0.1},{"t":57105,"f":0.12},{"t":57120,"f":0.15},{"t":57135,"f":0.1},{"t":57150,"f":0.12},{"t":57165,"f":0.08},{"t":57180,"f":0.15},{"t":57190,"f":0.1},
      {"t":57427,"f":0.06},{"t":57620,"f":0.42},{"t":57621,"f":0.28},{"t":57622,"f":0.18},
      {"t":57770,"f":0.05},{"t":57785,"f":0.08},{"t":57800,"f":0.12},{"t":57815,"f":0.06},{"t":57830,"f":0.09},{"t":57845,"f":0.05},{"t":57860,"f":0.07},{"t":57875,"f":0.05},{"t":57890,"f":0.06}
    ],
    "smk": [
      {"t":54905,"f":0.2},{"t":54910,"f":0.35},{"t":54915,"f":0.5},{"t":54918,"f":0.56},{"t":54922,"f":0.45},{"t":54926,"f":0.55},{"t":54930,"f":0.35},{"t":54935,"f":0.3},{"t":54940,"f":0.4},{"t":54945,"f":0.3},{"t":54952,"f":0.6},{"t":54955,"f":1.18},{"t":54958,"f":0.45},{"t":54962,"f":0.35},{"t":54966,"f":0.3},{"t":54970,"f":0.25},{"t":54975,"f":0.2},{"t":54980,"f":0.15},{"t":54988,"f":0.12},{"t":54996,"f":0.1},{"t":55005,"f":0.13},{"t":55014,"f":0.1},{"t":55023,"f":0.12},{"t":55032,"f":0.1},{"t":55041,"f":0.13},{"t":55050,"f":0.1},{"t":55060,"f":0.12},{"t":55070,"f":0.1},{"t":55080,"f":0.11},{"t":55090,"f":0.09},{"t":55100,"f":0.12},{"t":55108,"f":0.1},
      {"t":55211,"f":0.1},{"t":55220,"f":0.13},{"t":55229,"f":0.08},{"t":55238,"f":0.12},{"t":55247,"f":0.1},{"t":55256,"f":0.14},{"t":55265,"f":0.09},{"t":55274,"f":0.12},{"t":55283,"f":0.1},{"t":55292,"f":0.13},{"t":55301,"f":0.08},{"t":55310,"f":0.12},{"t":55319,"f":0.1},{"t":55328,"f":0.14},{"t":55337,"f":0.09},{"t":55346,"f":0.12},{"t":55355,"f":0.1},{"t":55364,"f":0.13},{"t":55373,"f":0.08},{"t":55382,"f":0.11},{"t":55391,"f":0.13},{"t":55400,"f":0.09},{"t":55409,"f":0.12},{"t":55418,"f":0.1},{"t":55427,"f":0.13},{"t":55436,"f":0.09},{"t":55445,"f":0.12},{"t":55454,"f":0.14},{"t":55463,"f":0.1},
      {"t":55559,"f":0.12},{"t":55568,"f":0.08},{"t":55577,"f":0.1},{"t":55586,"f":0.07},{"t":55595,"f":0.09},{"t":55604,"f":0.06},{"t":55613,"f":0.08},{"t":55619,"f":0.22},{"t":55628,"f":0.07},{"t":55637,"f":0.09},{"t":55646,"f":0.06},{"t":55655,"f":0.08},{"t":55664,"f":0.07},{"t":55673,"f":0.09},{"t":55682,"f":0.06},{"t":55691,"f":0.08},{"t":55700,"f":0.1},{"t":55709,"f":0.07},{"t":55718,"f":0.09},{"t":55727,"f":0.11},{"t":55736,"f":0.08},{"t":55745,"f":0.1},{"t":55754,"f":0.12},{"t":55763,"f":0.09},{"t":55772,"f":0.11},{"t":55781,"f":0.08},{"t":55790,"f":0.12},{"t":55799,"f":0.1},{"t":55808,"f":0.13},{"t":55813,"f":0.2},
      {"t":55930,"f":0.1},{"t":55938,"f":0.15},{"t":55945,"f":0.2},{"t":55950,"f":0.25},{"t":55955,"f":0.3},{"t":55958,"f":0.42},{"t":55962,"f":0.35},{"t":55966,"f":0.2},{"t":55972,"f":0.15},{"t":55980,"f":0.18},{"t":55988,"f":0.12},{"t":55996,"f":0.15},{"t":56005,"f":0.1},{"t":56014,"f":0.12},{"t":56023,"f":0.09},{"t":56032,"f":0.11},{"t":56041,"f":0.08},{"t":56050,"f":0.1},{"t":56059,"f":0.12},{"t":56068,"f":0.09},{"t":56077,"f":0.11},{"t":56086,"f":0.08},{"t":56095,"f":0.1},{"t":56104,"f":0.09},{"t":56113,"f":0.11},{"t":56122,"f":0.08},{"t":56131,"f":0.1},{"t":56140,"f":0.12},{"t":56149,"f":0.09},{"t":56158,"f":0.11},{"t":56167,"f":0.13},{"t":56175,"f":0.12},
      {"t":56317,"f":0.12},{"t":56325,"f":0.08},{"t":56335,"f":0.07},{"t":56345,"f":0.09},{"t":56355,"f":0.07},{"t":56365,"f":0.08},{"t":56375,"f":0.06},{"t":56385,"f":0.08},{"t":56395,"f":0.07},{"t":56405,"f":0.09},{"t":56415,"f":0.06},{"t":56425,"f":0.08},{"t":56435,"f":0.06},{"t":56445,"f":0.07},{"t":56455,"f":0.05},{"t":56465,"f":0.07},{"t":56475,"f":0.06},{"t":56485,"f":0.08},
      {"t":56530,"f":0.4},{"t":56533,"f":0.3},{"t":56536,"f":0.2},{"t":56539,"f":0.12},
      {"t":56656,"f":0.1},{"t":56666,"f":0.15},{"t":56676,"f":0.08},{"t":56686,"f":0.12},{"t":56696,"f":0.18},{"t":56706,"f":0.1},{"t":56716,"f":0.14},{"t":56726,"f":0.2},{"t":56736,"f":0.12},{"t":56746,"f":0.16},{"t":56756,"f":0.1},{"t":56766,"f":0.14},{"t":56770,"f":1.13},{"t":56776,"f":0.18},{"t":56786,"f":0.12},{"t":56796,"f":0.22},{"t":56806,"f":0.15},{"t":56816,"f":0.1},{"t":56826,"f":0.18},{"t":56836,"f":0.12},{"t":56846,"f":0.2},{"t":56854,"f":0.32},{"t":56862,"f":0.15},{"t":56872,"f":0.1},{"t":56882,"f":0.14},{"t":56892,"f":0.08},{"t":56898,"f":0.2},{"t":56908,"f":0.1},
      {"t":57020,"f":0.08},{"t":57030,"f":0.12},{"t":57040,"f":0.1},{"t":57050,"f":0.15},{"t":57060,"f":0.12},{"t":57070,"f":0.2},{"t":57078,"f":0.18},{"t":57086,"f":0.25},{"t":57092,"f":0.35},{"t":57098,"f":0.3},{"t":57104,"f":0.45},{"t":57110,"f":0.58},{"t":57115,"f":0.4},{"t":57120,"f":0.5},{"t":57125,"f":0.35},{"t":57130,"f":0.45},{"t":57135,"f":0.3},{"t":57140,"f":0.55},{"t":57143,"f":0.66},{"t":57146,"f":0.4},{"t":57150,"f":0.5},{"t":57155,"f":0.3},{"t":57160,"f":0.38},{"t":57165,"f":0.25},{"t":57170,"f":0.3},{"t":57178,"f":0.2},{"t":57185,"f":0.25},{"t":57192,"f":0.15}
    ],
    "pd": [
      {"t":54811,"f":2},{"t":54813,"f":4},{"t":54838,"f":8},{"t":54857,"f":3},{"t":54871,"f":4},{"t":54885,"f":2},{"t":54895,"f":6},{"t":54898,"f":22},{"t":54900,"f":21},{"t":54903,"f":18},{"t":54899,"f":14},{"t":54904,"f":12},{"t":54908,"f":10},{"t":54912,"f":7},{"t":54915,"f":5},{"t":54918,"f":3},{"t":54921,"f":2},{"t":54926,"f":4},{"t":54932,"f":6},{"t":54940,"f":3},{"t":54948,"f":2},
      {"t":55064,"f":8},{"t":55066,"f":7},{"t":55070,"f":7.5},{"t":55077,"f":6},
      {"t":55160,"f":4},{"t":55165,"f":2},{"t":55175,"f":3},{"t":55185,"f":1.5},{"t":55195,"f":3},{"t":55205,"f":2},{"t":55215,"f":1},{"t":55225,"f":3},{"t":55235,"f":2},{"t":55245,"f":4},{"t":55255,"f":1.5},{"t":55265,"f":3},{"t":55275,"f":2},{"t":55290,"f":3},{"t":55300,"f":1},{"t":55311,"f":14},{"t":55312,"f":12},{"t":55312,"f":9},{"t":55313,"f":6},{"t":55314,"f":4},{"t":55320,"f":2},{"t":55330,"f":1},
      {"t":55390,"f":1},{"t":55395,"f":2},{"t":55400,"f":3},{"t":55405,"f":1.5},{"t":55410,"f":2},
      {"t":55545,"f":25.5},{"t":55546,"f":25},{"t":55545,"f":16},{"t":55547,"f":12.5},{"t":55548,"f":7},
      {"t":55572,"f":10},{"t":55580,"f":6},{"t":55590,"f":4},{"t":55600,"f":3},{"t":55610,"f":2},{"t":55620,"f":5},{"t":55630,"f":3},{"t":55641,"f":2},
      {"t":55691,"f":13},{"t":55692,"f":10},{"t":55696,"f":8},{"t":55700,"f":3},{"t":55710,"f":2},{"t":55720,"f":5},{"t":55735,"f":3},{"t":55750,"f":2},{"t":55765,"f":8},{"t":55766,"f":5},
      {"t":55902,"f":1},{"t":55915,"f":2},{"t":55925,"f":1},{"t":55940,"f":3},{"t":55957,"f":5},{"t":55960,"f":4},{"t":55970,"f":2},{"t":55985,"f":3},{"t":56000,"f":2},{"t":56010,"f":4},{"t":56020,"f":3},{"t":56035,"f":2},{"t":56050,"f":3},{"t":56065,"f":4},{"t":56080,"f":2},{"t":56095,"f":3},{"t":56110,"f":2},{"t":56125,"f":2},{"t":56136,"f":3},
      {"t":56172,"f":8},
      {"t":56287,"f":1},{"t":56295,"f":1.5},{"t":56305,"f":2},{"t":56315,"f":1},{"t":56330,"f":2},{"t":56351,"f":4},{"t":56352,"f":2},{"t":56365,"f":1},{"t":56380,"f":2},{"t":56395,"f":3},{"t":56410,"f":1},{"t":56425,"f":2},{"t":56440,"f":3},{"t":56455,"f":2},{"t":56466,"f":1},{"t":56527,"f":4},{"t":56528,"f":2},
      {"t":56631,"f":2},{"t":56645,"f":1},{"t":56660,"f":3},{"t":56675,"f":2},{"t":56690,"f":3},{"t":56700,"f":10},{"t":56702,"f":8},{"t":56710,"f":2},{"t":56720,"f":4},{"t":56730,"f":3},{"t":56740,"f":5},{"t":56750,"f":2},{"t":56760,"f":6},{"t":56770,"f":4},{"t":56780,"f":3},{"t":56790,"f":5},{"t":56800,"f":2},{"t":56810,"f":6},{"t":56820,"f":4},{"t":56830,"f":3},{"t":56845,"f":2},{"t":56860,"f":5},{"t":56875,"f":1},
      {"t":56920,"f":3},{"t":56940,"f":2},{"t":56960,"f":4},{"t":56980,"f":3},{"t":57000,"f":5},{"t":57010,"f":2},{"t":57020,"f":4},{"t":57030,"f":3},{"t":57040,"f":6},{"t":57050,"f":5},{"t":57060,"f":3},{"t":57070,"f":4},{"t":57080,"f":6},{"t":57090,"f":2},
      {"t":57112,"f":10},{"t":57118,"f":14.5},{"t":57126,"f":12},{"t":57130,"f":8},{"t":57135,"f":5},{"t":57140,"f":4},{"t":57148,"f":19},{"t":57150,"f":16},{"t":57152,"f":12},{"t":57155,"f":8},{"t":57160,"f":6},{"t":57165,"f":4},{"t":57170,"f":2},{"t":57208,"f":11},{"t":57210,"f":10},{"t":57277,"f":3},{"t":57280,"f":1.5},
      {"t":57415,"f":18},{"t":57416,"f":10},{"t":57420,"f":4},{"t":57428,"f":2},{"t":57440,"f":3},{"t":57455,"f":5},{"t":57465,"f":2},{"t":57480,"f":3},{"t":57495,"f":4},{"t":57511,"f":13},{"t":57512,"f":10},{"t":57518,"f":2},{"t":57525,"f":3},{"t":57540,"f":1},{"t":57560,"f":2},{"t":57575,"f":4},{"t":57590,"f":3},{"t":57610,"f":5},{"t":57625,"f":6},{"t":57635,"f":8},{"t":57636,"f":5},{"t":57640,"f":3},
      {"t":57731,"f":6},{"t":57740,"f":5},{"t":57750,"f":3},{"t":57760,"f":2},{"t":57770,"f":4},{"t":57785,"f":5},{"t":57795,"f":2},{"t":57810,"f":3},{"t":57825,"f":1},{"t":57840,"f":2},{"t":57855,"f":3},{"t":57870,"f":1},{"t":57885,"f":2},{"t":57900,"f":3},{"t":57915,"f":2},{"t":57924,"f":1},
      {"t":58006,"f":1},{"t":58089,"f":3},{"t":58100,"f":6},{"t":58110,"f":4},{"t":58125,"f":2},{"t":58140,"f":1},{"t":58155,"f":3},{"t":58170,"f":2},{"t":58185,"f":5},{"t":58200,"f":6},{"t":58210,"f":4},{"t":58220,"f":6.5},{"t":58226,"f":5}
    ]
  },
  "resolve": {"scale": {"y": "independent", "color": "independent", "shape": "independent"}, "legend": {"color": "independent", "shape": "independent"}},
  "vconcat": [
    {
      "width": 837, "height": 88.4,
      "encoding": {"x": {"field": "t", "type": "quantitative", "scale": {"domain": [54500, 58466], "nice": false, "zero": false}, "axis": {"title": null, "labels": false, "values": [54500, 54800, 55100, 55400, 55700, 56000, 56300, 56600, 56900, 57200, 57500, 57800, 58100, 58400]}}},
      "layer": [
        {"data": {"name": "ev"}, "transform": [{"filter": "datum.k == 'start'"}], "mark": {"type": "rule", "color": "black", "strokeDash": [4, 3], "strokeWidth": 0.8}, "encoding": {}},
        {"data": {"name": "ev"}, "transform": [{"filter": "datum.k == 'end'"}], "mark": {"type": "rule", "color": "#ff2020", "strokeDash": [4, 3], "strokeWidth": 0.8}, "encoding": {}},
        {"data": {"name": "ev"}, "transform": [{"filter": "datum.k == 'window'"}], "mark": {"type": "rule", "color": "#7070ff", "strokeDash": [4, 3], "strokeWidth": 0.8}, "encoding": {}},
        {"data": {"name": "gam"}, "mark": {"type": "errorbar", "color": "#ff3030", "thickness": 1}, "encoding": {"y": {"field": "f", "type": "quantitative", "scale": {"domain": [-0.22, 1.69], "nice": false, "zero": false}, "axis": {"title": "F_gamma", "titleFont": "DejaVu Serif", "titleFontStyle": "italic", "titleFontSize": 12, "titlePadding": 4, "values": [0, 0.4, 0.8, 1.2, 1.6], "format": ".1f", "labelOverlap": false}}, "yError": {"field": "e"}}},
        {"data": {"name": "gam"}, "mark": {"type": "point", "filled": true, "opacity": 1, "stroke": "black", "strokeWidth": 0.5, "size": 26},
          "encoding": {"y": {"field": "f", "type": "quantitative", "scale": {"domain": [-0.22, 1.69], "nice": false, "zero": false}, "axis": {"title": "F_gamma", "titleFont": "DejaVu Serif", "titleFontStyle": "italic", "titleFontSize": 12, "titlePadding": 4, "values": [0, 0.4, 0.8, 1.2, 1.6], "format": ".1f", "labelOverlap": false}},
            "color": {"datum": "1 day binned", "scale": {"domain": ["1 day binned"], "range": ["#008000"]}, "legend": {"title": null, "legendX": 373, "legendY": 3}},
            "shape": {"datum": "1 day binned", "scale": {"domain": ["1 day binned"], "range": ["triangle-up"]}, "legend": {"title": null, "legendX": 373, "legendY": 3}}}},
        {"data": {"name": "lab"}, "mark": {"type": "text", "baseline": "bottom", "dy": -3, "fontSize": 11, "font": "DejaVu Sans", "color": "black"}, "encoding": {"y": {"datum": 1.69, "scale": {"domain": [-0.22, 1.69], "nice": false, "zero": false}, "axis": {"title": "F_gamma", "titleFont": "DejaVu Serif", "titleFontStyle": "italic", "titleFontSize": 12, "titlePadding": 4, "values": [0, 0.4, 0.8, 1.2, 1.6], "format": ".1f", "labelOverlap": false}}, "text": {"field": "n"}}},
        {"data": {"name": "off"}, "transform": [{"filter": "datum.p == 'gamma'"}], "mark": {"type": "text", "align": "left", "baseline": "bottom", "dy": -1, "dx": 1, "fontSize": 9, "color": "black"}, "encoding": {"y": {"datum": 1.69, "scale": {"domain": [-0.22, 1.69], "nice": false, "zero": false}, "axis": {"title": "F_gamma", "titleFont": "DejaVu Serif", "titleFontStyle": "italic", "titleFontSize": 12, "titlePadding": 4, "values": [0, 0.4, 0.8, 1.2, 1.6], "format": ".1f", "labelOverlap": false}}, "text": {"field": "o"}}}
      ]
    },
    {
      "width": 837, "height": 88.4,
      "encoding": {"x": {"field": "t", "type": "quantitative", "scale": {"domain": [54500, 58466], "nice": false, "zero": false}, "axis": {"title": null, "labels": false, "values": [54500, 54800, 55100, 55400, 55700, 56000, 56300, 56600, 56900, 57200, 57500, 57800, 58100, 58400]}}},
      "layer": [
        {"data": {"name": "ev"}, "transform": [{"filter": "datum.k == 'start'"}], "mark": {"type": "rule", "color": "black", "strokeDash": [4, 3], "strokeWidth": 0.8}, "encoding": {}},
        {"data": {"name": "ev"}, "transform": [{"filter": "datum.k == 'end'"}], "mark": {"type": "rule", "color": "#ff2020", "strokeDash": [4, 3], "strokeWidth": 0.8}, "encoding": {}},
        {"data": {"name": "ev"}, "transform": [{"filter": "datum.k == 'window'"}], "mark": {"type": "rule", "color": "#7070ff", "strokeDash": [4, 3], "strokeWidth": 0.8}, "encoding": {}},
        {"data": {"name": "xrt"}, "mark": {"type": "errorbar", "color": "#66bb66", "thickness": 1}, "encoding": {"y": {"field": "f", "type": "quantitative", "scale": {"domain": [-0.5, 6.07], "nice": false, "zero": false}, "axis": {"title": "F_Xray", "titleFont": "DejaVu Serif", "titleFontStyle": "italic", "titleFontSize": 12, "titlePadding": 4, "values": [0, 2, 4, 6], "format": "d", "labelOverlap": false}}, "yError": {"field": "e"}}},
        {"data": {"name": "xrt"}, "mark": {"type": "point", "filled": true, "opacity": 1, "stroke": "black", "strokeWidth": 0.5, "size": 32},
          "encoding": {"y": {"field": "f", "type": "quantitative", "scale": {"domain": [-0.5, 6.07], "nice": false, "zero": false}, "axis": {"title": "F_Xray", "titleFont": "DejaVu Serif", "titleFontStyle": "italic", "titleFontSize": 12, "titlePadding": 4, "values": [0, 2, 4, 6], "format": "d", "labelOverlap": false}},
            "color": {"datum": "XRT PC mode", "scale": {"domain": ["XRT PC mode"], "range": ["#ff0000"]}, "legend": {"title": null, "legendX": 372, "legendY": 3}},
            "shape": {"datum": "XRT PC mode", "scale": {"domain": ["XRT PC mode"], "range": ["circle"]}, "legend": {"title": null, "legendX": 372, "legendY": 3}}}},
        {"data": {"name": "off"}, "transform": [{"filter": "datum.p == 'xray'"}], "mark": {"type": "text", "align": "left", "baseline": "bottom", "dy": -1, "dx": 1, "fontSize": 9, "color": "black"}, "encoding": {"y": {"datum": 6.07, "scale": {"domain": [-0.5, 6.07], "nice": false, "zero": false}, "axis": {"title": "F_Xray", "titleFont": "DejaVu Serif", "titleFontStyle": "italic", "titleFontSize": 12, "titlePadding": 4, "values": [0, 2, 4, 6], "format": "d", "labelOverlap": false}}, "text": {"field": "o"}}}
      ]
    },
    {
      "width": 837, "height": 88.4,
      "encoding": {"x": {"field": "t", "type": "quantitative", "scale": {"domain": [54500, 58466], "nice": false, "zero": false}, "axis": {"title": null, "labels": false, "values": [54500, 54800, 55100, 55400, 55700, 56000, 56300, 56600, 56900, 57200, 57500, 57800, 58100, 58400]}}},
      "layer": [
        {"data": {"name": "ev"}, "transform": [{"filter": "datum.k == 'start'"}], "mark": {"type": "rule", "color": "black", "strokeDash": [4, 3], "strokeWidth": 0.8}, "encoding": {}},
        {"data": {"name": "ev"}, "transform": [{"filter": "datum.k == 'end'"}], "mark": {"type": "rule", "color": "#ff2020", "strokeDash": [4, 3], "strokeWidth": 0.8}, "encoding": {}},
        {"data": {"name": "ev"}, "transform": [{"filter": "datum.k == 'window'"}], "mark": {"type": "rule", "color": "#7070ff", "strokeDash": [4, 3], "strokeWidth": 0.8}, "encoding": {}},
        {"data": {"name": "smv"}, "mark": {"type": "point", "filled": true, "opacity": 1, "stroke": "black", "strokeWidth": 0.5, "size": 26},
          "encoding": {"y": {"field": "f", "type": "quantitative", "scale": {"domain": [-0.34, 8.24], "nice": false, "zero": false}, "axis": {"title": "F_Optical", "titleFont": "DejaVu Serif", "titleFontStyle": "italic", "titleFontSize": 12, "titlePadding": 4, "values": [0, 2, 4, 6, 8], "format": "d", "labelOverlap": false}},
            "color": {"datum": "SMARTS V", "scale": {"domain": ["STEWARD V", "SMARTS V"], "range": ["#ff0000", "#00bfbf"]}, "legend": {"title": null, "legendX": 372, "legendY": 3}},
            "shape": {"datum": "SMARTS V", "scale": {"domain": ["STEWARD V", "SMARTS V"], "range": ["triangle-up", "square"]}, "legend": {"title": null, "legendX": 372, "legendY": 3}}}},
        {"data": {"name": "stw"}, "mark": {"type": "point", "filled": true, "opacity": 1, "stroke": "black", "strokeWidth": 0.5, "size": 24},
          "encoding": {"y": {"field": "f", "type": "quantitative", "scale": {"domain": [-0.34, 8.24], "nice": false, "zero": false}, "axis": {"title": "F_Optical", "titleFont": "DejaVu Serif", "titleFontStyle": "italic", "titleFontSize": 12, "titlePadding": 4, "values": [0, 2, 4, 6, 8], "format": "d", "labelOverlap": false}},
            "color": {"datum": "STEWARD V"},
            "shape": {"datum": "STEWARD V"}}},
        {"data": {"name": "off"}, "transform": [{"filter": "datum.p == 'optical'"}], "mark": {"type": "text", "align": "left", "baseline": "bottom", "dy": -1, "dx": 1, "fontSize": 9, "color": "black"}, "encoding": {"y": {"datum": 8.24, "scale": {"domain": [-0.34, 8.24], "nice": false, "zero": false}, "axis": {"title": "F_Optical", "titleFont": "DejaVu Serif", "titleFontStyle": "italic", "titleFontSize": 12, "titlePadding": 4, "values": [0, 2, 4, 6, 8], "format": "d", "labelOverlap": false}}, "text": {"field": "o"}}}
      ]
    },
    {
      "width": 837, "height": 88.4,
      "encoding": {"x": {"field": "t", "type": "quantitative", "scale": {"domain": [54500, 58466], "nice": false, "zero": false}, "axis": {"title": null, "labels": false, "values": [54500, 54800, 55100, 55400, 55700, 56000, 56300, 56600, 56900, 57200, 57500, 57800, 58100, 58400]}}},
      "layer": [
        {"data": {"name": "ev"}, "transform": [{"filter": "datum.k == 'start'"}], "mark": {"type": "rule", "color": "black", "strokeDash": [4, 3], "strokeWidth": 0.8}, "encoding": {}},
        {"data": {"name": "ev"}, "transform": [{"filter": "datum.k == 'end'"}], "mark": {"type": "rule", "color": "#ff2020", "strokeDash": [4, 3], "strokeWidth": 0.8}, "encoding": {}},
        {"data": {"name": "ev"}, "transform": [{"filter": "datum.k == 'window'"}], "mark": {"type": "rule", "color": "#7070ff", "strokeDash": [4, 3], "strokeWidth": 0.8}, "encoding": {}},
        {"data": {"name": "smk"}, "mark": {"type": "point", "filled": true, "opacity": 1, "stroke": "black", "strokeWidth": 0.5, "size": 26},
          "encoding": {"y": {"field": "f", "type": "quantitative", "scale": {"domain": [-0.22, 1.54], "nice": false, "zero": false}, "axis": {"title": "F_IR", "titleFont": "DejaVu Serif", "titleFontStyle": "italic", "titleFontSize": 12, "titlePadding": 4, "values": [0, 0.5, 1, 1.5], "format": ".1f", "labelOverlap": false}},
            "color": {"datum": "SMARTS K", "scale": {"domain": ["SMARTS J", "SMARTS K"], "range": ["#ff0000", "#008000"]}, "legend": {"title": null, "legendX": 377, "legendY": 3}},
            "shape": {"datum": "SMARTS K", "scale": {"domain": ["SMARTS J", "SMARTS K"], "range": ["circle", "square"]}, "legend": {"title": null, "legendX": 377, "legendY": 3}}}},
        {"data": {"name": "smj"}, "mark": {"type": "point", "filled": true, "opacity": 1, "stroke": "black", "strokeWidth": 0.5, "size": 26},
          "encoding": {"y": {"field": "f", "type": "quantitative", "scale": {"domain": [-0.22, 1.54], "nice": false, "zero": false}, "axis": {"title": "F_IR", "titleFont": "DejaVu Serif", "titleFontStyle": "italic", "titleFontSize": 12, "titlePadding": 4, "values": [0, 0.5, 1, 1.5], "format": ".1f", "labelOverlap": false}},
            "color": {"datum": "SMARTS J"},
            "shape": {"datum": "SMARTS J"}}},
        {"data": {"name": "off"}, "transform": [{"filter": "datum.p == 'ir'"}], "mark": {"type": "text", "align": "left", "baseline": "bottom", "dy": -1, "dx": 1, "fontSize": 9, "color": "black"}, "encoding": {"y": {"datum": 1.54, "scale": {"domain": [-0.22, 1.54], "nice": false, "zero": false}, "axis": {"title": "F_IR", "titleFont": "DejaVu Serif", "titleFontStyle": "italic", "titleFontSize": 12, "titlePadding": 4, "values": [0, 0.5, 1, 1.5], "format": ".1f", "labelOverlap": false}}, "text": {"field": "o"}}}
      ]
    },
    {
      "width": 837, "height": 88.4,
      "encoding": {"x": {"field": "t", "type": "quantitative", "scale": {"domain": [54500, 58466], "nice": false, "zero": false}, "axis": {"title": "MJD(Days)", "titleFontSize": 12, "titlePadding": 3, "labelPadding": 8, "format": "d", "values": [54500, 54800, 55100, 55400, 55700, 56000, 56300, 56600, 56900, 57200, 57500, 57800, 58100, 58400]}}},
      "layer": [
        {"data": {"name": "ev"}, "transform": [{"filter": "datum.k == 'start'"}], "mark": {"type": "rule", "color": "black", "strokeDash": [4, 3], "strokeWidth": 0.8}, "encoding": {}},
        {"data": {"name": "ev"}, "transform": [{"filter": "datum.k == 'end'"}], "mark": {"type": "rule", "color": "#ff2020", "strokeDash": [4, 3], "strokeWidth": 0.8}, "encoding": {}},
        {"data": {"name": "ev"}, "transform": [{"filter": "datum.k == 'window'"}], "mark": {"type": "rule", "color": "#7070ff", "strokeDash": [4, 3], "strokeWidth": 0.8}, "encoding": {}},
        {"data": {"name": "pd"}, "mark": {"type": "point", "filled": true, "opacity": 1, "stroke": "#333300", "strokeWidth": 0.5, "size": 16},
          "encoding": {"y": {"field": "f", "type": "quantitative", "scale": {"domain": [-2.06, 40], "nice": false, "zero": false}, "axis": {"title": "P.D.(%)", "titleFontSize": 11, "titlePadding": 4, "values": [0, 10, 20, 30, 40], "format": "d", "labelOverlap": false}},
            "color": {"datum": "Pol. Degree", "scale": {"domain": ["Pol. Degree"], "range": ["#bfbf00"]}, "legend": {"title": null, "legendX": 377, "legendY": 3, "labelFontSize": 9}},
            "shape": {"datum": "Pol. Degree", "scale": {"domain": ["Pol. Degree"], "range": ["triangle-down"]}, "legend": {"title": null, "legendX": 377, "legendY": 3, "labelFontSize": 9}}}}
      ]
    }
  ]
}
